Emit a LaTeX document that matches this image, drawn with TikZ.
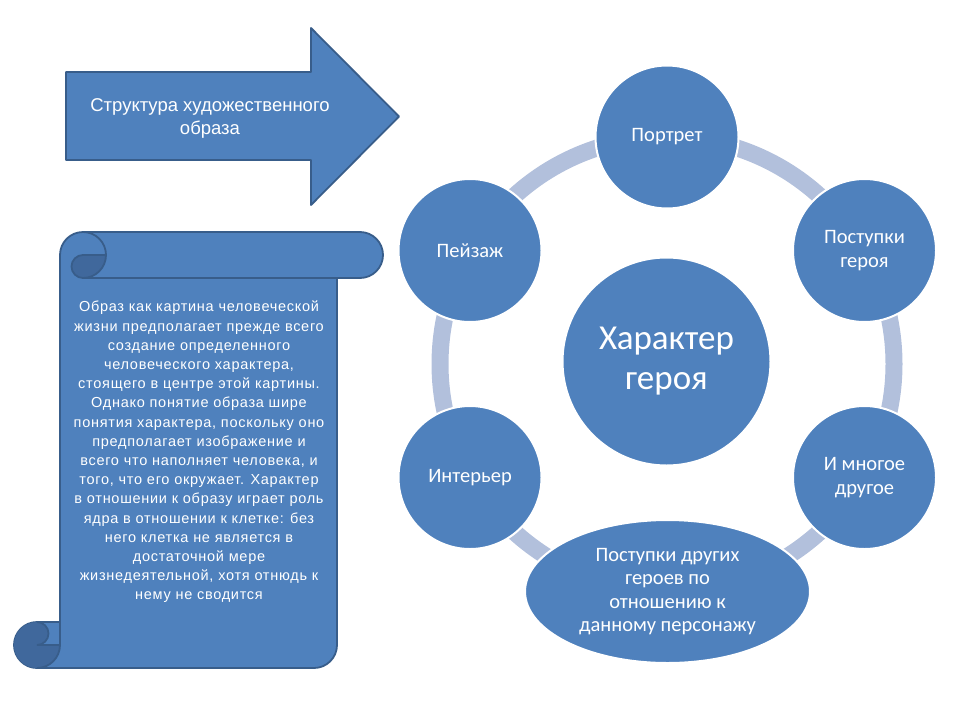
\documentclass[tikz,border=0pt]{standalone}
\usepackage{fontspec}
\setmainfont{Carlito}
\newfontfamily\arialf[LetterSpace=5]{Liberation Sans}
\newfontfamily\arialg{Liberation Sans}
\definecolor{mainblue}{RGB}{79,129,189}
\definecolor{darkblue}{RGB}{56,93,138}
\definecolor{curlblue}{RGB}{64,104,156}
\definecolor{ringblue}{RGB}{178,192,220}
\tikzset{
  bubble/.style={circle, fill=mainblue, draw=white, line width=2pt, minimum size=143pt, inner sep=0pt, text=white, align=center, font=\fontsize{20.5}{23.5}\selectfont},
  bigbubble/.style={circle, fill=mainblue, draw=white, line width=2pt, minimum size=208pt, inner sep=0pt, text=white, align=center, font=\fontsize{35}{40}\selectfont},
  ovalbubble/.style={ellipse, fill=mainblue, draw=white, line width=2pt, minimum width=285pt, minimum height=143pt, inner sep=0pt, text=white, align=center, font=\fontsize{20.5}{23.5}\selectfont},
  bluebody/.style={fill=mainblue, draw=darkblue, line width=1.8pt, line join=round},
  curlline/.style={draw=darkblue, line width=1.8pt},
}
\usetikzlibrary{shapes.geometric}
\begin{document}
\begin{tikzpicture}[x=1pt,y=1pt]
\useasboundingbox (0,0) rectangle (960,-720);
% arrow
\draw[bluebody] (66,-72) -- (311,-72) -- (311,-28) -- (399,-116.5) -- (311,-205) -- (311,-160) -- (66,-160) -- cycle;
\node[text=white, align=center, font=\arialg\fontsize{18.5}{23}\selectfont] (arrowtext) at (210,-118.5) {Структура художественного\\образа};
% scroll
\draw[bluebody] (60,-622) -- (60,-255) arc[start angle=180, end angle=90, radius=23pt] -- (360,-232)
  arc[start angle=90, end angle=-90, radius=23pt] -- (337,-278) -- (337,-645)
  arc[start angle=0, end angle=-90, radius=23pt] -- (37,-668)
  arc[start angle=270, end angle=90, radius=23pt] -- cycle;
\fill[curlblue] (106,-255) arc[start angle=0, end angle=-90, radius=23pt]
  arc[start angle=-90, end angle=-270, radius=11.5pt] -- cycle;
\fill[curlblue] (60,-645) arc[start angle=0, end angle=-270, radius=23pt]
  arc[start angle=90, end angle=-90, radius=11.5pt] -- cycle;
\draw[curlline] (83,-232) arc[start angle=90, end angle=-90, radius=23pt]
  arc[start angle=-90, end angle=-270, radius=11.5pt] -- (106,-255);
\draw[curlline] (337,-278) -- (83,-278);
\draw[curlline] (37,-622) arc[start angle=90, end angle=-90, radius=11.5pt] -- (60,-645);
\draw[curlline] (37,-668) arc[start angle=-90, end angle=0, radius=23pt] -- (60,-622);
\node[text=white, align=center, font=\arialf\fontsize{14.5}{19.2}\selectfont] (scrolltext) at (199,-452) {Образ как картина человеческой\\жизни предполагает прежде всего\\создание определенного\\человеческого характера,\\стоящего в центре этой картины.\\Однако понятие образа шире\\понятия характера, поскольку оно\\предполагает изображение и\\всего что наполняет человека, и\\того, что его окружает. Характер\\в отношении к образу играет роль\\ядра в отношении к клетке: без\\него клетка не является в\\достаточной мере\\жизнедеятельной, хотя отнюдь к\\нему не сводится};
% ring
\draw[ringblue, line width=17pt] (667,-364) circle[radius=227pt];
% nodes
\node[bigbubble] (center) at (666.5,-361.5) {Характер\\героя};
\node[bubble] (portrait) at (667,-137) {Портрет};
\node[bubble] (deeds) at (864.5,-250.5) {Поступки\\героя};
\node[bubble] (more) at (864.5,-477.5) {И многое\\другое};
\node[ovalbubble] (others) at (667.5,-591.5) {Поступки других\\героев по\\отношению к\\данному персонажу};
\node[bubble] (interior) at (470,-477.5) {Интерьер};
\node[bubble] (landscape) at (470,-250.5) {Пейзаж};
\end{tikzpicture}
\end{document}
